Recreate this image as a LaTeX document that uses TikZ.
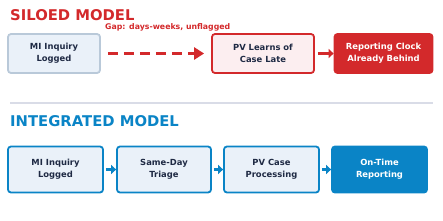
\documentclass[tikz,border=0pt]{standalone}
\usepackage{fontspec}
\setmainfont{DejaVu Sans}
\usetikzlibrary{arrows.meta}
\definecolor{sred}{HTML}{D3292B}
\definecolor{iblue}{HTML}{0A84C6}
\definecolor{navy}{HTML}{1F2A44}
\definecolor{boxfill}{HTML}{EAF1F9}
\definecolor{grayedge}{HTML}{B9C9D9}
\definecolor{pinkfill}{HTML}{FCEEF0}
\definecolor{sepgray}{HTML}{D9DCE7}
\tikzset{
  x=1pt,y=-1pt,
  box/.style={rounded corners=3pt,line width=1.8pt,align=center,text=navy,
    font=\bfseries\fontsize{8.4}{12}\selectfont,inner sep=0pt},
  title/.style={anchor=base west,inner sep=0pt,font=\bfseries\fontsize{14.8}{16}\selectfont},
  flowarrow/.style={line width=3pt,-{Triangle[length=5pt,width=9pt]}},
}
\begin{document}
\begin{tikzpicture}
\useasboundingbox (0,0) rectangle (443,220);
% Siloed
\node[title,text=sred] (t1) at (10,20) {SILOED MODEL};
\node[anchor=base west,inner sep=0pt,text=sred,font=\bfseries\fontsize{7.8}{9}\selectfont] (gap) at (105,29) {Gap: days-weeks, unflagged};
\node[box,draw=grayedge,fill=boxfill,minimum width=92pt,minimum height=39pt] (s1) at (54,53.5) {MI Inquiry\\Logged};
\node[box,draw=sred,fill=pinkfill,minimum width=102pt,minimum height=39pt] (s2) at (263,53.5) {PV Learns of\\Case Late};
\node[box,draw=sred,fill=sred,text=white,minimum width=98pt,minimum height=39pt] (s3) at (383.5,53.5) {Reporting Clock\\Already Behind};
\draw[sred,line width=3pt,dash pattern=on 10pt off 6pt,-{Triangle[length=10pt,width=12pt]}] ([xshift=7pt]s1.east) -- ([xshift=-7pt]s2.west);
\draw[sred,flowarrow] ([xshift=3pt]s2.east) -- (s3.west);
% separator
\coordinate (l1) at (10,103);
\coordinate (l2) at (433,103);
\draw[sepgray,line width=2pt] (l1) -- (l2);
% Integrated
\node[title,text=iblue] (t2) at (10,126) {INTEGRATED MODEL};
\node[box,draw=iblue,fill=boxfill,minimum width=95pt,minimum height=46pt] (i1) at (55.5,169.5) {MI Inquiry\\Logged};
\node[box,draw=iblue,fill=boxfill,minimum width=94pt,minimum height=46pt] (i2) at (164,169.5) {Same-Day\\Triage};
\node[box,draw=iblue,fill=boxfill,minimum width=95pt,minimum height=46pt] (i3) at (271.5,169.5) {PV Case\\Processing};
\node[box,draw=iblue,fill=iblue,text=white,minimum width=95pt,minimum height=46pt] (i4) at (379.5,169.5) {On-Time\\Reporting};
\draw[iblue,flowarrow] ([xshift=2pt]i1.east) -- (i2.west);
\draw[iblue,flowarrow] ([xshift=2pt]i2.east) -- (i3.west);
\draw[iblue,flowarrow] ([xshift=2pt]i3.east) -- (i4.west);
\end{tikzpicture}
\end{document}
